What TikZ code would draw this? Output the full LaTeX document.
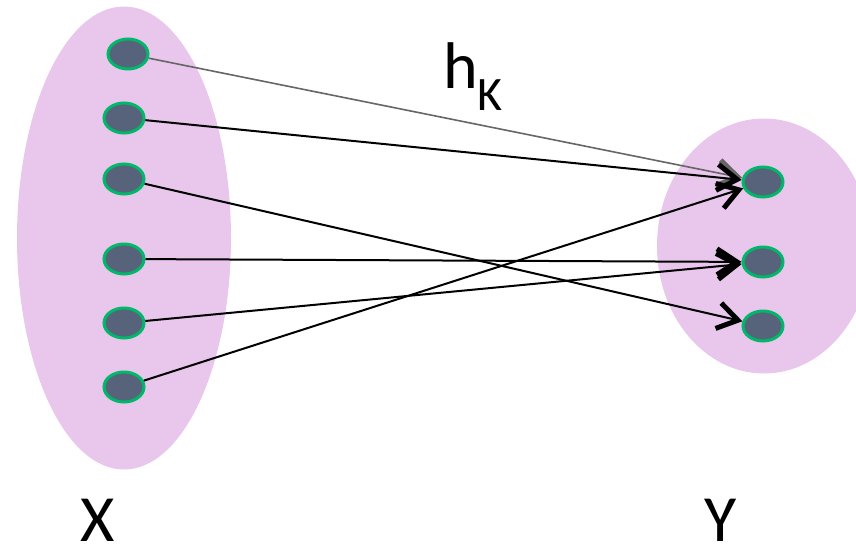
\documentclass[tikz,border=0pt]{standalone}
\usepackage{fontspec}
\setmainfont{Carlito}
\usetikzlibrary{arrows.meta,shapes.geometric}
\definecolor{setpink}{RGB}{233,199,236}
\definecolor{dotfill}{RGB}{86,99,123}
\definecolor{dotline}{RGB}{0,183,106}

\begin{document}
\begin{tikzpicture}[
    x=1pt, y=-1pt,
    set/.style={ellipse, fill=setpink, draw=none},
    elem/.style={ellipse, draw=dotline, line width=3pt, fill=dotfill, minimum width=40pt, minimum height=30pt, inner sep=0pt},
    map/.style={-{Straight Barb[length=20pt, width=26pt, line width'=5pt]}, line width=2pt},
    gmap/.style={map, draw=black!60, line width=1.6pt},
    lbl/.style={font=\fontsize{66}{70}\selectfont, inner sep=0pt}
]
\useasboundingbox (0,0) rectangle (856,549);
\clip (0,0) rectangle (856,549);

% the two sets
\node[set, minimum width=214pt, minimum height=463pt] (X) at (124,238) {};
\node[set, minimum width=214pt, minimum height=255pt] (Y) at (764,246) {};

% elements of X
\node[elem] (x1) at (128,54) {};
\node[elem] (x2) at (124,118) {};
\node[elem] (x3) at (124,179) {};
\node[elem] (x4) at (124,259) {};
\node[elem] (x5) at (124,323) {};
\node[elem] (x6) at (124,387) {};

% elements of Y
\node[elem] (y1) at (763,182) {};
\node[elem] (y2) at (763,262) {};
\node[elem] (y3) at (763,326) {};

% the map
\draw[gmap] (x1) -- (y1);
\draw[map] (x2) -- (y1);
\draw[map] (x3) -- (y3);
\draw[map] (x4) -- (y2);
\draw[map] (x5) -- (y2);
\draw[map] (x6) -- (y1);

\node[lbl, anchor=base west] (h) at (443,88) {h\raisebox{-22pt}{\fontsize{48}{50}\selectfont K}};
\node[lbl, anchor=base] (lx) at (98,541) {X};
\node[lbl, anchor=base] (ly) at (721,541) {Y};
\end{tikzpicture}
\end{document}
